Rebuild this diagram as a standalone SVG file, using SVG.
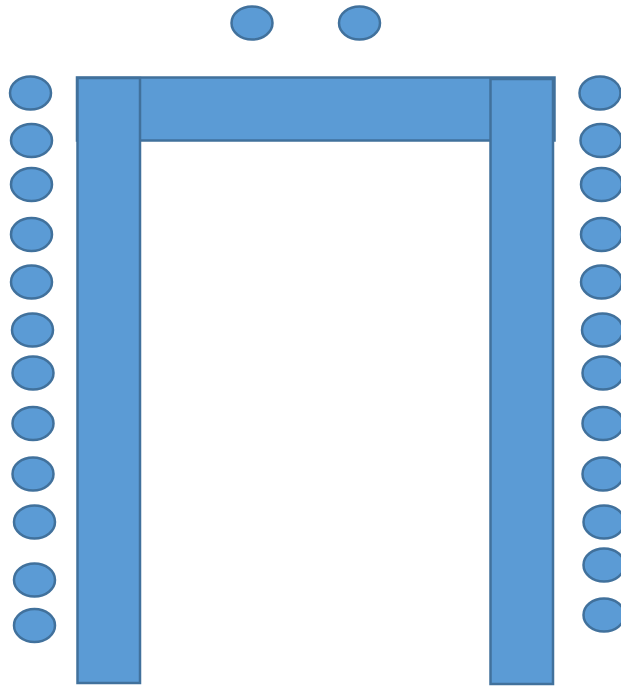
<svg xmlns="http://www.w3.org/2000/svg" width="621" height="686" viewBox="0 0 621 686">
<style>
.t{fill:#5B9BD5;stroke:#41719C;stroke-width:2.5}
.c{fill:#5B9BD5;stroke:#41719C;stroke-width:2.5}
</style>
<rect width="621" height="686" fill="#FFFFFF"/>
<g id="tables">
<rect id="table-top" class="t" x="77" y="77.5" width="477.5" height="63"/>
<rect id="table-left" class="t" x="77.5" y="78" width="62.5" height="605"/>
<rect id="table-right" class="t" x="490.5" y="79" width="62.5" height="605"/>
</g>
<g id="chairs-top">
<ellipse class="c" cx="252" cy="23" rx="20.5" ry="16.5"/>
<ellipse class="c" cx="359.5" cy="23" rx="20.5" ry="16.5"/>
</g>
<g id="chairs-left">
<ellipse class="c" cx="30.5" cy="93" rx="20.5" ry="16.5"/>
<ellipse class="c" cx="31.5" cy="140.5" rx="20.5" ry="16.5"/>
<ellipse class="c" cx="31.5" cy="184.5" rx="20.5" ry="16.5"/>
<ellipse class="c" cx="31.5" cy="234.5" rx="20.5" ry="16.5"/>
<ellipse class="c" cx="31.5" cy="282" rx="20.5" ry="16.5"/>
<ellipse class="c" cx="32.5" cy="330" rx="20.5" ry="16.5"/>
<ellipse class="c" cx="33" cy="373" rx="20.5" ry="16.5"/>
<ellipse class="c" cx="33" cy="423.5" rx="20.5" ry="16.5"/>
<ellipse class="c" cx="33" cy="474" rx="20.5" ry="16.5"/>
<ellipse class="c" cx="34.5" cy="522" rx="20.5" ry="16.5"/>
<ellipse class="c" cx="34.5" cy="580" rx="20.5" ry="16.5"/>
<ellipse class="c" cx="34.5" cy="625.5" rx="20.5" ry="16.5"/>
</g>
<g id="chairs-right">
<ellipse class="c" cx="600" cy="93" rx="20.5" ry="16.5"/>
<ellipse class="c" cx="601" cy="140.5" rx="20.5" ry="16.5"/>
<ellipse class="c" cx="601.5" cy="184.5" rx="20.5" ry="16.5"/>
<ellipse class="c" cx="601.5" cy="234.5" rx="20.5" ry="16.5"/>
<ellipse class="c" cx="601.5" cy="282" rx="20.5" ry="16.5"/>
<ellipse class="c" cx="602.5" cy="330" rx="20.5" ry="16.5"/>
<ellipse class="c" cx="603" cy="373" rx="20.5" ry="16.5"/>
<ellipse class="c" cx="603" cy="423.5" rx="20.5" ry="16.5"/>
<ellipse class="c" cx="603" cy="474" rx="20.5" ry="16.5"/>
<ellipse class="c" cx="604" cy="522" rx="20.5" ry="16.5"/>
<ellipse class="c" cx="604" cy="565" rx="20.5" ry="16.5"/>
<ellipse class="c" cx="604" cy="615" rx="20.5" ry="16.5"/>
</g>
</svg>
